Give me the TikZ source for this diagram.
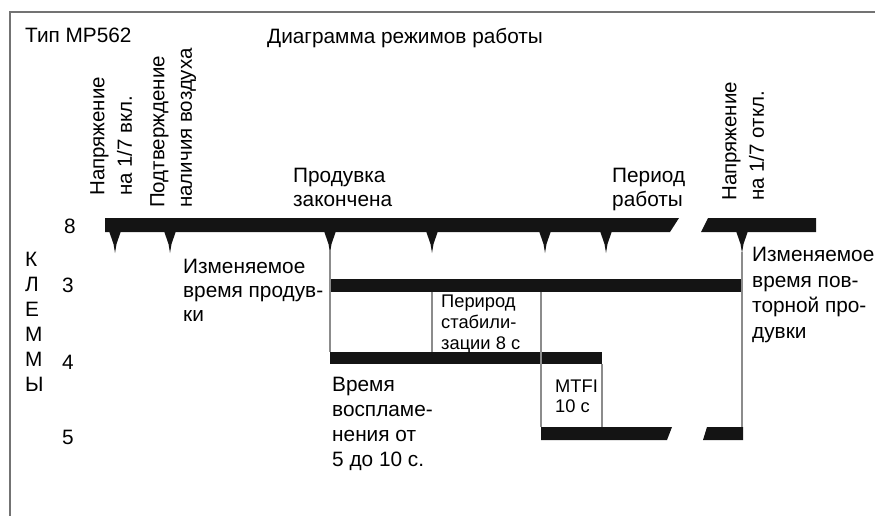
\documentclass[tikz,border=0pt]{standalone}
\usepackage{fontspec}
\setmainfont{Liberation Sans}
\begin{document}
\begin{tikzpicture}[x=1pt,y=-1pt,
  lbl/.style={inner sep=0pt, anchor=north west, align=left, font=\fontsize{20.8}{25}\selectfont},
  small/.style={lbl, font=\fontsize{18.3}{21}\selectfont},
  rot/.style={lbl, rotate=90, font=\fontsize{20.5}{27.5}\selectfont},
  bar/.style={fill=black!92, draw=none},
  guide/.style={draw=black!45, line width=1.1pt},
  frame/.style={draw=black!55, line width=1.8pt}]
\useasboundingbox (0,0) rectangle (875,516);
% frame
\draw[frame] (10,516) -- (10,12) -- (875,12);
% titles
\node[lbl] (typ) at (25,28) {Тип MP562};
\node[lbl] (title) at (267,28) {Диаграмма режимов работы};
% rotated labels
\node[rot] (pon) at (90,196) {Напряжение\\на 1/7 вкл.};
\node[rot] (air) at (150,208) {Подтверждение\\наличия воздуха};
\node[rot] (poff) at (722,201) {Напряжение\\на 1/7 откл.};
% upper labels
\node[lbl, font=\fontsize{20.8}{24}\selectfont] (purge) at (293,168) {Продувка\\закончена};
\node[lbl, font=\fontsize{20.8}{24}\selectfont] (run) at (612,168) {Период\\работы};
% terminal labels
\node[lbl] (k) at (25,252) {К\\Л\\Е\\М\\М\\Ы};
\node[lbl] (t8) at (64,219) {8};
\node[lbl] (t3) at (62,278) {3};
\node[lbl] (t4) at (62,355) {4};
\node[lbl] (t5) at (62,430) {5};
% bars terminal 8
\fill[bar] (105,218) -- (679,218) -- (670,232) -- (105,232) -- cycle;
\fill[bar] (708,218) -- (816,218) -- (816,232) -- (701,232) -- cycle;
\foreach \x in {115,170,330,432,545,606,742}
  \fill[bar] (\x-6,231) -- (\x+6,231) -- (\x+1.5,244) -- (\x,253) -- (\x-1.5,244) -- cycle;
% bar terminal 3
\fill[bar] (330,279) rectangle (743,292);
% bar terminal 4
\fill[bar] (330,352) rectangle (602,364);
% bars terminal 5
\fill[bar] (541,427) -- (672,427) -- (667,440) -- (541,440) -- cycle;
\fill[bar] (707,427) -- (743,427) -- (743,440) -- (703,440) -- cycle;
% guide lines
\draw[guide] (330,250) -- (330,352);
\draw[guide] (432,292) -- (432,352);
\draw[guide] (541,292) -- (541,427);
\draw[guide] (602,364) -- (602,427);
\draw[guide] (742,252) -- (742,427);
% inner labels
\node[lbl, font=\fontsize{20.8}{24}\selectfont] (vpurge) at (183,259) {Изменяемое\\время продув-\\ки};
\node[small] (stab) at (441,295) {Перирод\\стабили-\\зации 8 с};
\node[lbl] (ign) at (332,377) {Время\\воспламе-\\нения от\\5 до 10 с.};
\node[small, font=\fontsize{18.3}{20}\selectfont] (mtfi) at (555,380) {MTFI\\10 с};
\node[lbl, font=\fontsize{20.8}{25.5}\selectfont] (vrepurge) at (752,247) {Изменяемое\\время пов-\\торной про-\\дувки};
\end{tikzpicture}
\end{document}
